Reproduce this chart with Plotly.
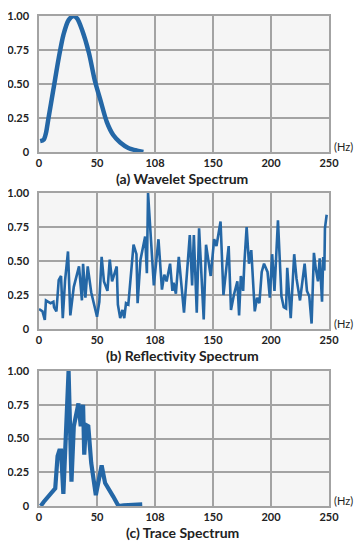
import plotly.graph_objects as go

# ---- data ----
wavelet_hz = [1, 4, 6, 8, 12.4, 17, 21, 25.5, 30, 33, 37, 43, 48, 53, 58.5, 64, 70, 77, 84.5, 90]
wavelet_amp = [0.08, 0.09, 0.14, 0.24, 0.46, 0.69, 0.86, 0.97, 1.0, 0.98, 0.9, 0.73, 0.53, 0.38, 0.22, 0.125, 0.07, 0.03, 0.01, 0.0]

refl_hz = [0, 3, 5, 6, 8, 10, 12.4, 13, 15, 17, 19, 20.5, 22.5, 25, 27, 30, 34.5, 37, 38, 40,
           42, 45, 50, 52, 54, 56, 59, 61, 63, 67, 68, 70, 72, 73.5, 75, 77, 81.5, 84, 85, 87.5,
           91.5, 93, 94, 95.5, 99, 103, 106, 108, 110, 113, 115, 116, 118, 120.5, 125, 130, 132, 133.5, 136, 138,
           140, 142, 144, 148, 151, 153, 156.5, 159, 163.5, 165.5, 168, 171, 172.5, 174, 176, 177, 179, 181, 183, 186,
           188, 190, 192, 194, 197, 199, 201, 203, 206, 209, 211, 213, 214, 217, 220, 222, 225, 229, 231, 233,
           235, 237, 238.5, 240.5, 242, 244, 245, 246, 246.5, 248]
refl_amp = [0.147, 0.13, 0.066, 0.21, 0.2, 0.19, 0.2, 0.16, 0.13, 0.36, 0.39, 0.08, 0.36, 0.57, 0.1, 0.31, 0.46, 0.21, 0.48, 0.23,
            0.46, 0.27, 0.09, 0.2, 0.53, 0.35, 0.28, 0.51, 0.35, 0.46, 0.18, 0.08, 0.14, 0.08, 0.19, 0.18, 0.62, 0.55, 0.19, 0.51,
            0.68, 0.41, 1.0, 0.77, 0.32, 0.66, 0.29, 0.4, 0.35, 0.48, 0.28, 0.34, 0.26, 0.53, 0.12, 0.69, 0.32, 0.69, 0.12, 0.74,
            0.35, 0.07, 0.62, 0.39, 0.66, 0.61, 0.79, 0.25, 0.61, 0.14, 0.25, 0.35, 0.1, 0.39, 0.28, 0.48, 0.75, 0.48, 0.58, 0.13,
            0.23, 0.19, 0.42, 0.48, 0.42, 0.23, 0.55, 0.28, 0.8, 0.24, 0.16, 0.15, 0.45, 0.08, 0.55, 0.37, 0.21, 0.48, 0.28, 0.24,
            0.04, 0.56, 0.45, 0.35, 0.52, 0.2, 0.53, 0.43, 0.74, 0.84]

trace_hz = [1.5, 4, 14, 16, 17.5, 19, 21, 23, 25.5, 28, 30, 34, 36, 38, 39, 40.5, 42.5, 45, 49, 54, 57, 64, 68.5, 73, 87.5, 89]
trace_amp = [0.0, 0.03, 0.13, 0.37, 0.41, 0.41, 0.09, 0.46, 1.0, 0.18, 0.59, 0.76, 0.59, 0.75, 0.38, 0.6, 0.59, 0.32, 0.08, 0.3, 0.17, 0.07, 0.0, 0.005, 0.015, 0.012]

x_tickvals = [0, 50, 100, 150, 200, 250]
x_ticktext = ["0", "50", "108", "150", "200", "250"]
y_tickvals = [0, 0.25, 0.5, 0.75, 1.0]
y_ticktext = ["0", "0.25", "0.50", "0.75", "1.00"]
titles = ["(a) Wavelet Spectrum", "(b) Reflectivity Spectrum", "(c) Trace Spectrum"]

# ---- layout ----
# page has an 8px body margin, so the figure is sized/positioned to compensate
OFF = 8
W, H = 364 - 2 * OFF, 551 - 2 * OFF
LINE = "#2467a6"
GRID = "#a3a3a3"
FONT = "Lato"


def px(x):
    return (x - OFF) / W


def py(y):
    return 1 - (y - OFF) / H


x_dom = [px(39), px(329)]
panels = [(16, 152), (193, 329), (371, 506)]  # top, bottom page pixel
series = [(wavelet_hz, wavelet_amp, 4.5, "spline"),
          (refl_hz, refl_amp, 2.6, "linear"),
          (trace_hz, trace_amp, 4.2, "linear")]

fig = go.Figure()
layout = dict(width=W, height=H, margin=dict(l=0, r=0, t=0, b=0, autoexpand=False),
              paper_bgcolor="white", plot_bgcolor="#f5f5f5", showlegend=False,
              font=dict(family=FONT, color="#222222"))
annotations = []
for i, ((top, bot), (xs, ys, lw, shape)) in enumerate(zip(panels, series)):
    n = "" if i == 0 else str(i + 1)
    fig.add_trace(go.Scatter(x=xs, y=ys, mode="lines",
                             line=dict(color=LINE, width=lw, shape=shape, smoothing=0.8),
                             xaxis="x" + n, yaxis="y" + n))
    ydom = [py(bot), py(top)]
    layout["xaxis" + n] = dict(domain=x_dom, range=[0, 250], tickvals=x_tickvals, ticktext=x_ticktext,
                               showgrid=True, gridcolor=GRID, gridwidth=1.5, zeroline=False,
                               showline=True, linecolor=GRID, linewidth=1.5, mirror=True,
                               ticks="", automargin=False, ticklabelstandoff=0,
                               tickfont=dict(size=11, family=FONT, weight="bold", color="#222"),
                               anchor="y" + n, fixedrange=True)
    layout["yaxis" + n] = dict(domain=ydom, range=[0, 1], tickvals=y_tickvals, ticktext=y_ticktext,
                               showgrid=True, gridcolor=GRID, gridwidth=1.5, zeroline=False,
                               showline=True, linecolor=GRID, linewidth=1.5, mirror=True,
                               ticks="", ticklabelstandoff=6, automargin=False,
                               tickfont=dict(size=11, family=FONT, weight="bold", color="#222"),
                               anchor="x" + n, fixedrange=True)
    annotations.append(dict(text=titles[i], x=px(182), y=py(bot + 26), xref="paper", yref="paper",
                            showarrow=False, xanchor="center", yanchor="middle",
                            font=dict(size=14, family=FONT, weight="bold", color="#222")))
    annotations.append(dict(text="(Hz)", x=px(332), y=py(bot - 6), xref="paper", yref="paper",
                            showarrow=False, xanchor="left", yanchor="middle",
                            font=dict(size=11, family=FONT, color="#222")))
layout["annotations"] = annotations
fig.update_layout(**layout)
fig.write_html("out.html")
